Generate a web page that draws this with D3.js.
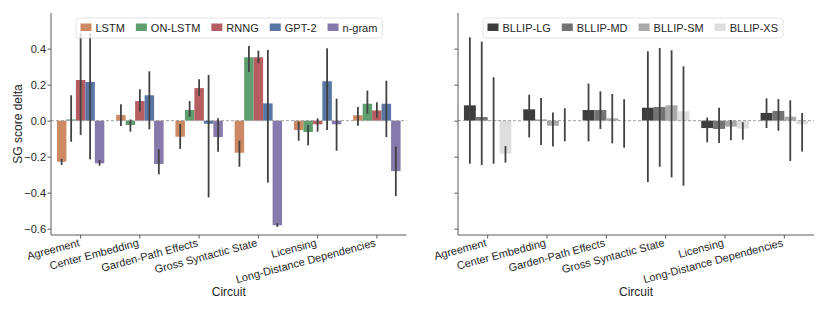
<!DOCTYPE html>
<html><head><meta charset="utf-8">
<script src="https://cdn.jsdelivr.net/npm/d3@7"></script>
<style>
body{margin:0;background:#fff;}
svg{display:block;font-family:"Liberation Sans",Arial,sans-serif;}
</style></head><body>
<svg id="chart" width="830" height="312"></svg>
<script>
// ---------- data ----------
const categories = ["Agreement","Center Embedding","Garden-Path Effects","Gross Syntactic State","Licensing","Long-Distance Dependencies"];
const yTicks = [-0.6,-0.4,-0.2,0.0,0.2,0.4];

const leftModels = ["LSTM","ON-LSTM","RNNG","GPT-2","n-gram"];
const leftColors = ["#CC8963","#5F9E6E","#B55D60","#5875A4","#857AAB"];
const lstm      = [-0.228, 0.031,-0.089,-0.178,-0.052, 0.030];
const lstmLo    = [-0.246,-0.030,-0.157,-0.256,-0.111,-0.028];
const lstmHi    = [-0.213, 0.091,-0.019,-0.111,-0.006, 0.076];
const onlstm    = [ 0.007,-0.024, 0.059, 0.352,-0.063, 0.094];
const onlstmLo  = [-0.117,-0.061, 0.022, 0.270,-0.137, 0.039];
const onlstmHi  = [ 0.141, 0.007, 0.109, 0.415,-0.024, 0.167];
const rnng      = [ 0.226, 0.109, 0.181, 0.352,-0.020, 0.057];
const rnngLo    = [-0.080, 0.050, 0.137, 0.319,-0.061, 0.017];
const rnngHi    = [ 0.487, 0.174, 0.230, 0.389, 0.013, 0.102];
const gpt2      = [ 0.215, 0.141,-0.017, 0.096, 0.219, 0.094];
const gpt2Lo    = [-0.215,-0.048,-0.426,-0.344,-0.052,-0.091];
const gpt2Hi    = [ 0.487, 0.274, 0.254, 0.393, 0.402, 0.222];
const ngram     = [-0.237,-0.241,-0.091,-0.581,-0.020,-0.280];
const ngramLo   = [-0.250,-0.298,-0.172,-0.590,-0.167,-0.419];
const ngramHi   = [-0.219,-0.159, 0.013,-0.570, 0.122,-0.144];

const rightModels = ["BLLIP-LG","BLLIP-MD","BLLIP-SM","BLLIP-XS"];
const rightColors = ["#3d3d3d","#737373","#aaaaaa","#dedede"];
const bllipLG   = [ 0.085, 0.063, 0.059, 0.072,-0.041, 0.043];
const bllipLGLo = [-0.239,-0.093,-0.115,-0.341,-0.120,-0.041];
const bllipLGHi = [ 0.463, 0.144, 0.206, 0.385, 0.017, 0.124];
const bllipMD   = [ 0.020, 0.006, 0.059, 0.076,-0.046, 0.054];
const bllipMDLo = [-0.246,-0.135,-0.046,-0.256,-0.124,-0.056];
const bllipMDHi = [ 0.439, 0.126, 0.163, 0.404, 0.072, 0.120];
const bllipSM   = [ 0.002,-0.028, 0.013, 0.085,-0.033, 0.022];
const bllipSMLo = [-0.239,-0.144,-0.126,-0.315,-0.109,-0.224];
const bllipSMHi = [ 0.241, 0.046, 0.148, 0.391, 0.004, 0.113];
const bllipXS   = [-0.183, 0.000, 0.001, 0.052,-0.044,-0.020];
const bllipXSLo = [-0.233,-0.115,-0.150,-0.361,-0.106,-0.172];
const bllipXSHi = [-0.141, 0.069, 0.119, 0.302,-0.009, 0.043];

const leftSeries = [[lstm,lstmLo,lstmHi],[onlstm,onlstmLo,onlstmHi],[rnng,rnngLo,rnngHi],[gpt2,gpt2Lo,gpt2Hi],[ngram,ngramLo,ngramHi]];
const rightSeries = [[bllipLG,bllipLGLo,bllipLGHi],[bllipMD,bllipMDLo,bllipMDHi],[bllipSM,bllipSMLo,bllipSMHi],[bllipXS,bllipXSLo,bllipXSHi]];

// ---------- drawing ----------
const svg = d3.select("#chart");
const TXT = "#262626", SPINE = "#5a5a5a";
const yTop = 13, yBottom = 235;
const y = d3.scaleLinear().domain([-0.635, 0.598]).range([yBottom, yTop]);
const fmt = d3.format(".1f");

function panel(x0, x1, models, colors, series, showYLabels) {
  const g = svg.append("g");
  const x = d3.scaleBand().domain(categories).range([x0, x1]).padding(0);
  const bw = x.bandwidth();
  const inner = d3.scaleBand().domain(models).range([0.1*bw, 0.9*bw]).padding(0);

  // bars
  models.forEach((m, mi) => {
    const vals = series[mi][0];
    g.selectAll(null).data(categories).enter().append("rect")
      .attr("x", (c) => x(c) + inner(m))
      .attr("width", inner.bandwidth())
      .attr("y", (c, i) => y(Math.max(0, vals[i])))
      .attr("height", (c, i) => Math.abs(y(vals[i]) - y(0)))
      .attr("fill", colors[mi]);
  });
  // zero line
  g.append("line").attr("x1", x0).attr("x2", x1).attr("y1", y(0)).attr("y2", y(0))
    .attr("stroke", "#a0a0a0").attr("stroke-width", 1).attr("stroke-dasharray", "3,2");
  // error bars
  models.forEach((m, mi) => {
    const lo = series[mi][1], hi = series[mi][2];
    g.selectAll(null).data(categories).enter().append("line")
      .attr("x1", (c) => x(c) + inner(m) + inner.bandwidth()/2)
      .attr("x2", (c) => x(c) + inner(m) + inner.bandwidth()/2)
      .attr("y1", (c, i) => y(lo[i]))
      .attr("y2", (c, i) => y(hi[i]))
      .attr("stroke", "#424242").attr("stroke-width", 1.8);
  });

  // y axis
  const ya = g.append("g").attr("transform", `translate(${x0},0)`)
    .call(d3.axisLeft(y).tickValues(yTicks).tickSize(3.5).tickPadding(1.5)
      .tickFormat(showYLabels ? (d) => fmt(d) : () => ""));
  ya.select(".domain").remove();
  ya.selectAll("line").attr("stroke", SPINE);
  ya.selectAll("text").attr("fill", TXT).style("font-size", "11px")
    .style("font-family", '"Liberation Sans",Arial,sans-serif');
  g.append("line").attr("x1", x0).attr("x2", x0).attr("y1", yTop).attr("y2", yBottom)
    .attr("stroke", SPINE).attr("stroke-width", 1);

  // x axis
  g.append("line").attr("x1", x0).attr("x2", x1).attr("y1", yBottom).attr("y2", yBottom)
    .attr("stroke", SPINE).attr("stroke-width", 1);
  categories.forEach((c) => {
    const cx = x(c) + bw/2;
    g.append("line").attr("x1", cx).attr("x2", cx).attr("y1", yBottom).attr("y2", yBottom + 3.5)
      .attr("stroke", SPINE);
    g.append("text").attr("transform", `translate(${cx - 0.5},${yBottom + 11}) rotate(-15)`)
      .attr("text-anchor", "end").attr("fill", TXT).style("font-size", "11px").text(c);
  });
  g.append("text").attr("x", (x0 + x1)/2).attr("y", 296).attr("text-anchor", "middle")
    .attr("fill", TXT).style("font-size", "12px").text("Circuit");

  // legend
  const lg = g.append("g");
  const lx = x0 + 25, ly = 18;
  const box = lg.append("rect").attr("x", lx).attr("y", ly).attr("height", 20).attr("rx", 3)
    .attr("fill", "white").attr("fill-opacity", 0.8).attr("stroke", "#dcdcdc").attr("stroke-width", 0.8);
  let cur = lx + 4.5;
  models.forEach((m, mi) => {
    lg.append("rect").attr("x", cur).attr("y", 23.5).attr("width", 11).attr("height", 7.5).attr("fill", colors[mi]);
    const t = lg.append("text").attr("x", cur + 15).attr("y", 31.5).attr("fill", TXT)
      .style("font-size", "11px").text(m);
    cur += 15 + t.node().getComputedTextLength() + (mi < models.length - 1 ? 11 : 5);
  });
  box.attr("width", cur - lx);
}

panel(51, 406.5, leftModels, leftColors, leftSeries, true);
panel(458, 814, rightModels, rightColors, rightSeries, false);

svg.append("text").attr("transform", `translate(22,${(yTop + yBottom)/2}) rotate(-90)`)
  .attr("text-anchor", "middle").attr("fill", TXT).style("font-size", "12px").text("SG score delta");
</script>
</body></html>
